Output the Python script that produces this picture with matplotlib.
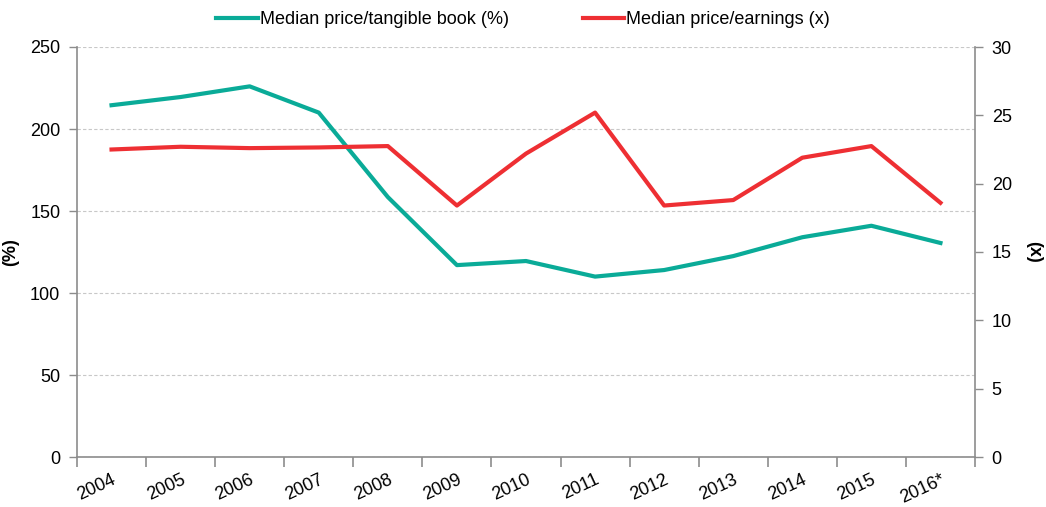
import numpy as np
import matplotlib.pyplot as plt

plt.rcParams['font.family'] = ['Liberation Sans', 'DejaVu Sans']

years = ['2004', '2005', '2006', '2007', '2008', '2009', '2010',
         '2011', '2012', '2013', '2014', '2015', '2016*']
price_tbv = [214.5, 219.5, 226, 210, 158.5, 117, 119.5,
             110, 114, 122.5, 134, 141, 130.5]
price_pe = [22.5, 22.7, 22.6, 22.65, 22.75, 18.4, 22.2,
            25.2, 18.4, 18.8, 21.9, 22.75, 18.6]

teal = '#0aab98'
red = '#ee2f33'
axc = '#8c8c8c'

fig = plt.figure(figsize=(10.46, 5.07), dpi=100)
ax = fig.add_axes([77 / 1046, 50 / 507, 898 / 1046, 410 / 507])
ax2 = ax.twinx()

x = np.arange(len(years))
l1, = ax.plot(x, price_tbv, color=teal, lw=3, label='Median price/tangible book (%)')
l2, = ax2.plot(x, price_pe, color=red, lw=3, label='Median price/earnings (x)')

ax.set_xlim(-0.5, len(years) - 0.5)
ax.set_ylim(0, 250)
ax2.set_ylim(0, 30)
ax.set_yticks(np.arange(0, 251, 50))
ax2.set_yticks(np.arange(0, 31, 5))

# ticks sit between categories, labels at the centres
ax.set_xticks(np.arange(-0.5, len(years), 1))
ax.set_xticklabels([])
ax.set_xticks(x, minor=True)
ax.set_xticklabels(years, minor=True, rotation=25, ha='right',
                   rotation_mode='anchor', fontsize=13)
ax.tick_params(axis='x', which='minor', length=0, pad=10)
ax.tick_params(axis='x', which='major', length=7, color=axc, width=1.2, direction='out')

ax.yaxis.grid(True, color='#c8c8c8', ls=(0, (3, 2)), lw=0.8)
ax.set_axisbelow(True)

for a in (ax, ax2):
    a.spines['top'].set_visible(False)
    for s in ('left', 'right', 'bottom'):
        a.spines[s].set_color(axc)
        a.spines[s].set_linewidth(1.2)
    a.tick_params(axis='y', length=6, color=axc, labelsize=13, width=1, pad=6)
ax.spines['right'].set_visible(False)
ax2.spines['left'].set_visible(False)
ax2.spines['bottom'].set_visible(False)

ax.set_ylabel('(%)', fontsize=13, fontweight='bold', labelpad=8)
ax2.set_ylabel('(x)', fontsize=13, fontweight='bold', rotation=-90, labelpad=22)

fig.legend(handles=[l1, l2], loc='upper center', bbox_to_anchor=(0.5, 1.01),
           ncol=2, frameon=False, fontsize=13, handlelength=2.3,
           handletextpad=0.1, columnspacing=4.1)

fig.savefig('out.png', dpi=100)
